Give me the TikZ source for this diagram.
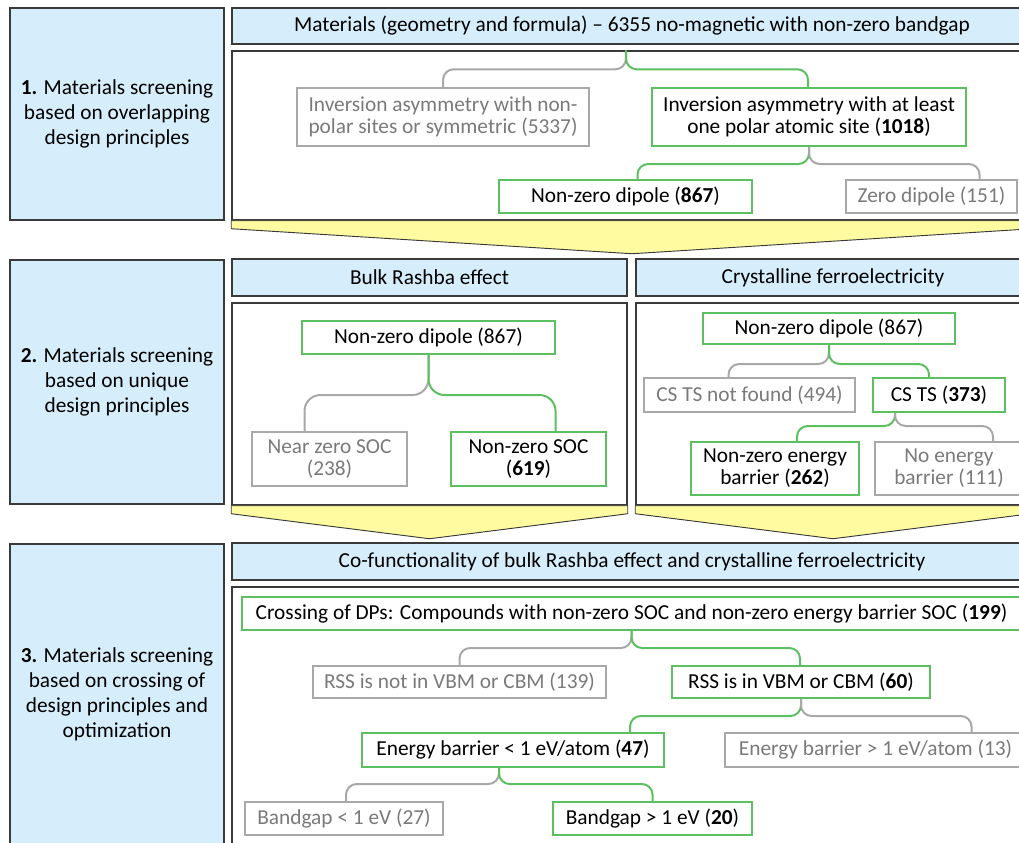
\documentclass[tikz,border=0pt]{standalone}
\usepackage{fontspec}
\setmainfont{Carlito}
\usepackage{tikz}
\usetikzlibrary{calc}
\definecolor{paleblue}{RGB}{214,238,251}
\definecolor{paleyellow}{RGB}{255,251,160}
\definecolor{okgreen}{RGB}{92,192,96}
\definecolor{outgray}{RGB}{168,168,168}
\definecolor{outtext}{RGB}{122,122,122}
\definecolor{frame}{RGB}{58,58,58}

\begin{document}
\begin{tikzpicture}[x=0.75pt,y=-0.75pt,
	sz/.style 2 args={minimum width=#1*0.75pt,minimum height=#2*0.75pt},
	stage/.style={draw=frame,line width=1.1pt,fill=paleblue,inner sep=0pt,align=center,font=\fontsize{16}{18.8}\selectfont},
	head/.style={draw=frame,line width=1.1pt,fill=paleblue,inner sep=0pt,font=\fontsize{16}{18}\selectfont},
	panel/.style={draw=frame,line width=1.1pt,fill=white,inner sep=0pt},
	keep/.style={draw=okgreen,line width=1.5pt,fill=white,inner sep=0pt,align=center,font=\fontsize{16}{16.5}\selectfont},
	drop/.style={keep,draw=outgray,text=outtext},
	keepline/.style={draw=okgreen,line width=1.5pt,rounded corners=8pt},
	dropline/.style={keepline,draw=outgray},
	funnel/.style={draw=frame,line width=0.7pt,fill=paleyellow}]
	\useasboundingbox (0,0) rectangle (1019,842);
	\clip (0,0) rectangle (1019,842);
	% stage labels
	\node[stage,sz={214}{212}] (s1) at (117,114) {\textbf{1.} Materials screening\\based on overlapping\\design principles};
	\node[stage,sz={214}{244}] (s2) at (117,382) {\textbf{2.} Materials screening\\based on unique\\design principles};
	\node[stage,sz={214}{300}] (s3) at (117,694) {\textbf{3.} Materials screening\\based on crossing of\\design principles and\\optimization};
	% headers and panels
	\node[head,sz={800}{36}] (h1) at (632,26) {Materials (geometry and formula) – 6355 no-magnetic with non-zero bandgap};
	\node[panel,sz={800}{169}] (c1) at (632,135.5) {};
	\node[head,sz={395}{37}] (h2a) at (429.5,277.5) {Bulk Rashba effect};
	\node[panel,sz={395}{202}] (c2a) at (429.5,404) {};
	\node[head,sz={394}{37}] (h2b) at (833,277.5) {Crystalline ferroelectricity};
	\node[panel,sz={394}{202}] (c2b) at (833,404) {};
	\node[head,sz={800}{37}] (h3) at (632,561.5) {Co-functionality of bulk Rashba effect and crystalline ferroelectricity};
	\node[panel,sz={800}{280}] (c3) at (632,727) {};
	% funnels
	\foreach \c in {c1,c2a,c2b}
	\draw[funnel] (\c.south west) -- (\c.south east) -- ++(0,8)
		-- ($(\c.south)+(0,33)$) -- ($(\c.south west)+(0,8)$) -- cycle;
	% stage 1
	\node[drop,sz={292}{58}] (inv) at (443,117) {Inversion asymmetry with non-\\polar sites or symmetric (5337)};
	\node[keep,sz={314}{58}] (invpol) at (809,117) {Inversion asymmetry with at least\\one polar atomic site (\textbf{1018})};
	\node[keep,sz={253}{33}] (nzd) at (625.5,196.5) {Non-zero dipole (\textbf{867})};
	\node[drop,sz={171}{33}] (zd) at (931.5,196.5) {Zero dipole (151)};
	\draw[dropline] ([shift={(-6,0)}]c1.north) -- ++(0,19) -| (inv.north);
	\draw[keepline] ([shift={(-6,0)}]c1.north) -- ++(0,19) -| ([shift={(-1,0)}]invpol.north);
	\draw[keepline] (invpol.south) -- ++(0,17) -| ([shift={(12,0)}]nzd.north);
	\draw[dropline] (invpol.south) -- ++(0,17) -| ([shift={(48,0)}]zd.north);
	% stage 2, Rashba
	\node[keep,sz={253}{33}] (nzdA) at (428.5,337.5) {Non-zero dipole (867)};
	\node[drop,sz={155}{54}] (nearsoc) at (329.5,459) {Near zero SOC\\(238)};
	\node[keep,sz={155}{54}] (nzsoc) at (528.5,459) {Non-zero SOC\\(\textbf{619})};
	\draw[dropline,rounded corners=12pt] (nzdA.south) -- ++(0,40) -| ([shift={(-25,0)}]nearsoc.north);
	\draw[keepline,rounded corners=12pt] (nzdA.south) -- ++(0,40) -| ([shift={(27,0)}]nzsoc.north);
	% stage 2, ferroelectricity
	\node[keep,sz={252}{31}] (nzdB) at (829,328.5) {Non-zero dipole (867)};
	\node[drop,sz={211}{34}] (csnf) at (749.5,395) {CS TS not found (494)};
	\node[keep,sz={132}{34}] (cs) at (939,395) {CS TS (\textbf{373})};
	\node[keep,sz={168}{53}] (nzeb) at (775,468.5) {Non-zero energy\\barrier (\textbf{262})};
	\node[drop,sz={148}{53}] (neb) at (949,468.5) {No energy\\barrier (111)};
	\draw[dropline] (nzdB.south) -- ++(0,19) -| ([shift={(-21,0)}]csnf.north);
	\draw[keepline] (nzdB.south) -- ++(0,19) -| ([shift={(-10,0)}]cs.north);
	\draw[keepline] ([shift={(-44,0)}]cs.south) -- ++(0,13) -| ([shift={(22,0)}]nzeb.north);
	\draw[dropline] ([shift={(-44,0)}]cs.south) -- ++(0,13) -| ([shift={(44,0)}]neb.north);
	% stage 3
	\node[keep,sz={779}{33}] (cross) at (631.5,613.5) {Crossing of DPs: Compounds with non-zero SOC and non-zero energy barrier SOC (\textbf{199})};
	\node[drop,sz={293}{32}] (rssno) at (459.5,682) {RSS is not in VBM or CBM (139)};
	\node[keep,sz={258}{32}] (rss) at (801,682) {RSS is in VBM or CBM (\textbf{60})};
	\node[keep,sz={302}{34}] (eblow) at (513,750) {Energy barrier < 1 eV/atom (\textbf{47})};
	\node[drop,sz={301}{34}] (ebhigh) at (875.5,750) {Energy barrier > 1 eV/atom (13)};
	\node[drop,sz={198}{33}] (bglow) at (344,818.5) {Bandgap < 1 eV (27)};
	\node[keep,sz={199}{33}] (bghigh) at (652.5,818.5) {Bandgap > 1 eV (\textbf{20})};
	\draw[dropline] (cross.south) -- ++(0,17) -| (rssno.north);
	\draw[keepline] (cross.south) -- ++(0,17) -| ([shift={(-1,0)}]rss.north);
	\draw[keepline] (rss.south) -- ++(0,17) -| ([shift={(117,0)}]eblow.north);
	\draw[dropline] (rss.south) -- ++(0,17) -| ([shift={(96,0)}]ebhigh.north);
	\draw[dropline] ([shift={(-14,0)}]eblow.south) -- ++(0,16) -| ([shift={(2,0)}]bglow.north);
	\draw[keepline] ([shift={(-14,0)}]eblow.south) -- ++(0,16) -| (bghigh.north);
\end{tikzpicture}
\end{document}
